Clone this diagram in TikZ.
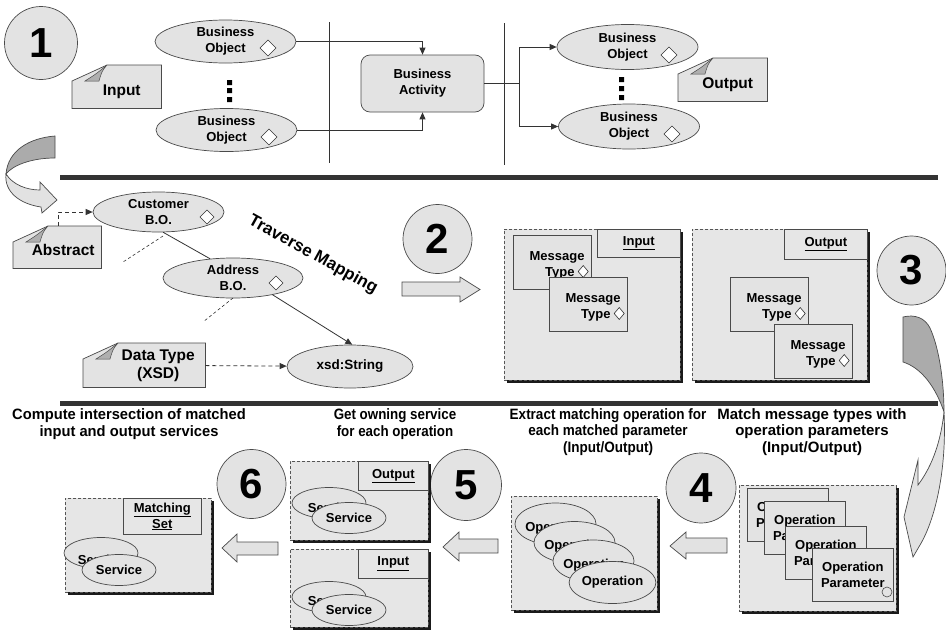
\documentclass[tikz,border=0pt]{standalone}
\usepackage{fontspec}
\usepackage{graphicx}
\setmainfont{Liberation Sans}
\usetikzlibrary{shapes.geometric,calc,arrows.meta,shadows}
\definecolor{fillc}{HTML}{E3E3E3}
\definecolor{panelc}{HTML}{E6E6E6}
\definecolor{edgec}{HTML}{4A4A4A}
\definecolor{linec}{HTML}{333333}
\definecolor{sepc}{HTML}{333333}
\definecolor{foldc}{HTML}{AFAFAF}
\definecolor{ribdark}{HTML}{ABABAB}
\definecolor{riblight}{HTML}{E2E2E2}
\definecolor{panelEdge}{HTML}{555555}
\definecolor{shadowc}{HTML}{1A1A1A}
\tikzset{
  f13/.style={font=\bfseries\fontsize{13}{16}\selectfont},
  bo/.style={ellipse, draw=edgec, fill=fillc, line width=0.7pt, inner sep=0pt, align=center, f13},
  ba/.style={rectangle, rounded corners=9pt, draw=edgec, fill=fillc, line width=0.7pt, inner sep=0pt, align=center, f13, minimum width=123pt, minimum height=57pt},
  circ/.style={circle, draw=edgec, fill=fillc, line width=0.7pt, inner sep=0pt, font=\bfseries\fontsize{42}{42}\selectfont},
  notebg/.style={rectangle, inner sep=0pt, anchor=north west},
  notefill/.style={fill=fillc, draw=edgec, line width=0.7pt, line join=miter},
  fold/.style={fill=foldc, draw=edgec, line width=0.5pt},
  notetxt/.style={font=\bfseries\fontsize{15.5}{18}\selectfont, align=center, inner sep=0pt},
  conn/.style={draw=linec, line width=0.8pt},
  arr/.style={conn, -{Triangle[length=7pt,width=6pt]}},
  darr/.style={arr, dash pattern=on 4pt off 3pt},
  dotl/.style={draw=linec, line width=0.6pt, dash pattern=on 3pt off 2.5pt},
  dmdst/.style={draw=linec, line width=0.6pt, fill=white},
  vline/.style={draw=linec, line width=0.8pt},
  sepl/.style={draw=sepc, line width=5pt},
  blk/.style={fill=riblight, draw=edgec, line width=0.7pt, line join=miter},
  panel/.style={rectangle, draw=panelEdge, dash pattern=on 3pt off 2pt, fill=panelc, line width=0.7pt, inner sep=0pt, anchor=north west, drop shadow={shadow xshift=3pt, shadow yshift=-3pt, opacity=1, fill=shadowc}},
  ttl/.style={rectangle, draw=edgec, fill=panelc, line width=0.7pt, inner sep=0pt, align=center, f13},
  mtb/.style={rectangle, draw=edgec, fill=fillc, line width=0.7pt, inner sep=0pt, minimum width=78pt, minimum height=54pt, anchor=north west},
  lbl/.style={f13, inner sep=0pt},
  svc/.style={ellipse, draw=edgec, fill=fillc, line width=0.7pt, inner sep=0pt, f13, minimum width=74pt, minimum height=31pt},
  opl/.style={ellipse, draw=edgec, fill=fillc, line width=0.7pt, inner sep=0pt, f13, minimum width=81pt, minimum height=42pt},
  opb/.style={rectangle, draw=edgec, fill=fillc, line width=0.7pt, inner sep=0pt, f13, align=center, minimum width=81pt, minimum height=53pt, anchor=north west},
  steptxt/.style={font=\bfseries\fontsize{15}{16.5}\selectfont, inner sep=0pt, anchor=north},
}
\newcommand\sx[2]{\scalebox{#1}[1]{\begin{tabular}{@{}c@{}}#2\end{tabular}}}
\newcommand\dmd[3]{\draw[dmdst] (#1,#2) +(-#3,0) -- +(0,-#3) -- +(#3,0) -- +(0,#3) -- cycle;}
\newcommand\mknote[8]{%
  \node[notebg, minimum width=#4pt, minimum height=#5pt] (#1) at (#2,#3) {};
  \path[notefill] ($(#1.north west)+(0,16)$) -- ($(#1.north west)+(35,0)$) -- (#1.north east) -- (#1.south east) -- (#1.south west) -- cycle;
  \path[fold] ($(#1.north west)+(35,0)$) .. controls ($(#1.north west)+(30,6)$) .. ($(#1.north west)+(27,16)$) -- ($(#1.north west)+(13,16)$) .. controls ($(#1.north west)+(24,9)$) .. ($(#1.north west)+(35,0)$) -- cycle;
  \node[notetxt] (#1-t) at ($(#1.center)+(#7,#8)$) {#6};
}
\newcommand\mtbox[3]{%
  \node[mtb] (#1) at (#2,#3) {};
  \node[lbl, anchor=base east] (#1-a) at ($(#1.north east)+(-7,25.5)$) {Message};
  \node[lbl, anchor=base east] (#1-b) at ($(#1.north east)+(-17,41.5)$) {Type};
  \draw[dmdst] ($(#1.north east)+(-8.5,36.5)$) +(-5,0) -- +(0,-6) -- +(5,0) -- +(0,6) -- cycle;
}
\begin{document}
\begin{tikzpicture}[x=1pt,y=-1pt]
\useasboundingbox (0,0) rectangle (946,632);
\fill[white] (0,0) rectangle (946,632);

% ---------------- Section 1 ----------------
\node[circ, minimum size=73pt] (c1) at (41,43) {1};
\mknote{inp}{72}{65}{89}{43}{Input}{5}{5}
\node[bo, minimum width=141pt, minimum height=43pt] (bo1) at (225.5,41.5) {Business\\Object};
\dmd{268}{48}{8}
\node[bo, minimum width=141pt, minimum height=43pt] (bo2) at (226.5,130) {Business\\Object};
\dmd{269}{137}{8}
\fill[black] (227,80) rectangle (232,85) (227,88) rectangle (232,93) (227,97) rectangle (232,102);
\draw[vline] (329,22) -- (329,163);
\node[ba] (ba) at (422.5,83.5) {Business\\Activity};
\draw[arr] (bo1) -| (ba);
\draw[arr] (bo2) -| (ba);
\draw[vline] (504,23) -- (504,165);
\coordinate (j) at (519,83.5);
\draw[conn] (ba) -- (j);
\node[bo, minimum width=141pt, minimum height=45pt] (ob1) at (627.5,47) {Business\\Object};
\dmd{669}{55}{8}
\node[bo, minimum width=141pt, minimum height=45pt] (ob2) at (629,126.5) {Business\\Object};
\dmd{672}{134}{8}
\draw[arr] (j) |- (ob1);
\draw[arr] (j) |- (ob2);
\fill[black] (619,77) rectangle (624,82) (619,86) rectangle (624,91) (619,95) rectangle (624,100);
\mknote{outn}{678}{58}{89}{43}{Output}{5}{5}

\draw[sepl] (60,177.5) -- (938,177.5);

% curled arrow (left)
\path[fill=ribdark, draw=edgec, line width=0.7pt] (55,136) .. controls (30,138) and (8,150) .. (6,174) .. controls (12,166) and (30,158) .. (55,158) -- cycle;
\path[blk] (6,174) .. controls (4,192) and (20,204) .. (41,207) -- (42,213) -- (57,200) -- (40,182) -- (40,190) .. controls (27,190) and (13,185) .. (6,174) -- cycle;

% ---------------- Section 2 ----------------
\node[bo, minimum width=131pt, minimum height=40pt] (cust) at (158.5,212) {Customer\\B.O.};
\dmd{207}{217}{7}
\mknote{abs}{13}{226}{88}{42}{Abstract}{6}{3}
\coordinate (absT) at (58,226);
\draw[darr] (absT) |- (cust);
\node[bo, minimum width=140pt, minimum height=40pt] (addr) at (233,278) {Address\\B.O.};
\dmd{276}{283}{7}
\draw[conn] (cust.-77) -- (addr.140);
\coordinate (d1a) at (163,236);
\coordinate (d1b) at (123,262);
\draw[dotl] (d1a) -- (d1b);
\coordinate (d2a) at (233,298);
\coordinate (d2b) at (203,322);
\draw[dotl] (d2a) -- (d2b);
\node[bo, minimum width=126pt, minimum height=43pt, font=\bfseries\fontsize{13.5}{16}\selectfont] (xsd) at (350,366.5) {xsd:String};
\draw[arr] (addr.-23) -- (xsd.84);
\mknote{dt}{83}{343}{122}{44}{Data Type\\(XSD)}{14}{1}
\draw[darr] (dt) -- (xsd);
\node[font=\bfseries\fontsize{17}{17}\selectfont, rotate=-29, inner sep=0pt] (tm) at (313,255) {Traverse Mapping};
\node[circ, minimum size=69pt] (c2) at (437.5,239) {2};
\path[blk] (402,282) -- (460,282) -- (460,277) -- (480,289.5) -- (460,302) -- (460,296) -- (402,296) -- cycle;

\node[panel, minimum width=176pt, minimum height=151pt] (pin) at (504,229) {};
\node[ttl, minimum width=83pt, minimum height=28pt, anchor=north east] (tin) at (pin.north east) {\underline{Input}};
\mtbox{m1}{513}{235}
\mtbox{m2}{549}{277}
\node[panel, minimum width=175pt, minimum height=151pt] (pout) at (692,229) {};
\node[ttl, minimum width=83pt, minimum height=30pt, anchor=north east] (tout) at (pout.north east) {\underline{Output}};
\mtbox{m3}{730}{277}
\mtbox{m4}{774}{324}
\node[circ, minimum size=69pt] (c3) at (911.5,270.5) {3};

% big curled arrow (right)
\path[fill=ribdark, draw=edgec, line width=0.7pt] (903,317) .. controls (915,314) and (925,318) .. (930,328) .. controls (940,350) and (944,385) .. (944,412) .. controls (936,388) and (922,368) .. (903,362) -- cycle;
\path[blk] (944,412) .. controls (947,470) and (935,520) .. (920,545) -- (913,557) -- (904,517) -- (918,460) -- (918,485) .. controls (933,465) and (941,440) .. (944,412) -- cycle;

\draw[sepl, line width=4.5pt] (60,403.5) -- (938,403.5);

% ---------------- Section 3 ----------------
\node[steptxt] (t6) at (129,408) {\sx{0.98}{Compute intersection of matched\\input and output services}};
\node[steptxt] (t5) at (395,408) {\sx{0.89}{Get owning service\\for each operation}};
\node[steptxt] (t4) at (608,407.5) {\sx{0.9}{Extract matching operation for\\each matched parameter\\(Input/Output)}};
\node[steptxt] (t3) at (812,407.5) {\sx{1}{Match message types with\\operation parameters\\(Input/Output)}};

\node[circ, minimum size=69pt] (c6) at (251.5,484) {6};
\node[circ, minimum size=71pt] (c5) at (466,485) {5};
\node[circ, minimum size=70pt] (c4) at (701,488) {4};

% matching set
\node[panel, minimum width=146pt, minimum height=94pt] (pms) at (65,498) {};
\node[ttl, minimum width=78pt, minimum height=36pt, anchor=north west] (tms) at (123,498) {\underline{Matching}\\\underline{Set}};
\node[svc] (ms1) at (101,553) {};
\node[lbl] (ms1t) at (101,560) {Service};
\node[svc] (ms2) at (119,570) {Service};
\path[blk] (278,542) -- (237,542) -- (237,534) -- (222,548) -- (237,562) -- (237,555) -- (278,555) -- cycle;

% step 5 panels
\node[panel, minimum width=138pt, minimum height=79pt] (p5o) at (290,461) {};
\node[ttl, minimum width=70pt, minimum height=29pt, anchor=north east] (t5o) at (p5o.north east) {\underline{Output}};
\node[svc] (so1) at (329,503) {};
\node[lbl] (so1t) at (331,508) {Service};
\node[svc] (so2) at (349,518) {Service};
\node[panel, minimum width=138pt, minimum height=78pt] (p5i) at (290,549) {};
\node[ttl, minimum width=70pt, minimum height=29pt, anchor=north east] (t5i) at (p5i.north east) {\underline{Input}};
\node[svc] (si1) at (329,597) {};
\node[lbl] (si1t) at (331,601) {Service};
\node[svc] (si2) at (349,610) {Service};
\path[blk] (498,539) -- (459,539) -- (459,532) -- (443,547) -- (459,561) -- (459,553) -- (498,553) -- cycle;

% operations
\node[panel, minimum width=146pt, minimum height=114pt] (pop) at (511,496) {};
\node[opl] (e1) at (555.5,524) {};
\node[lbl] (e1t) at (556,528) {Operation};
\node[opl] (e2) at (574.5,542.5) {};
\node[lbl] (e2t) at (575,546.5) {Operation};
\node[opl] (e3) at (593.5,561) {};
\node[lbl] (e3t) at (594,565) {Operation};
\node[opl] (e4) at (612.5,582.5) {Operation};
\path[blk] (727,538) -- (686,538) -- (686,532) -- (670,546) -- (686,559) -- (686,553) -- (727,553) -- cycle;

% operation parameters
\node[panel, minimum width=157pt, minimum height=126pt] (ppar) at (739,485) {};
\node[opb] (b1) at (747,488) {Operation\\Parameter};
\node[opb] (b2) at (764,501) {Operation\\Parameter};
\node[opb] (b3) at (785,526) {Operation\\Parameter};
\node[opb] (b4) at (812,548) {Operation\\Parameter};
\draw[draw=edgec, line width=0.6pt, fill=fillc] (887,592) circle[radius=5pt];
\end{tikzpicture}
\end{document}
